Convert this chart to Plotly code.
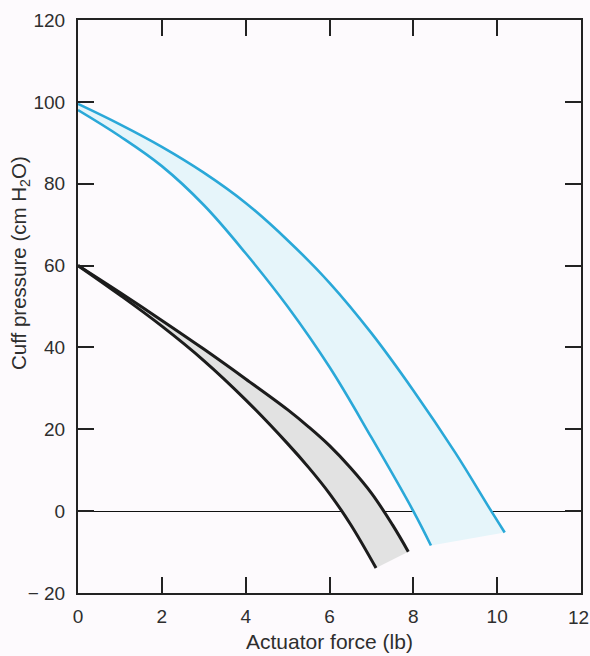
import plotly.graph_objects as go

# Cyan band (upper/lower edges)
cyan_up_x = [0, 1, 2, 3, 4, 5, 6, 7, 8, 9, 9.86, 10.18]
cyan_up_y = [99.5, 94.5, 89, 82.7, 75.3, 66.2, 55.8, 43.5, 29.5, 14.3, 0, -5.2]
cyan_lo_x = [0, 1, 2, 3, 4, 5, 6, 7, 8, 8.42]
cyan_lo_y = [98, 91.6, 84.3, 74.8, 63, 50, 35.2, 18, 0, -8.4]

# Black band
black_up_x = [0, 1, 2, 3, 4, 5, 5.5, 6, 6.5, 7, 7.5, 7.88]
black_up_y = [60, 53.4, 46.6, 39.6, 32.3, 24.8, 20.6, 16, 10.6, 4.4, -3.3, -9.9]
black_lo_x = [0, 1, 2, 3, 4, 5, 5.5, 6, 6.5, 7.11]
black_lo_y = [60, 52.8, 45.2, 36.8, 27.2, 16.5, 10.7, 4.3, -3.2, -13.9]

x_ticks = [0, 2, 4, 6, 8, 10, 12]
x_tick_text = ["0", "2", "4", "6", "8", "10", ""]
x_last_label = "12"
y_ticks = [-20, 0, 20, 40, 60, 80, 100, 120]
y_tick_text = ["\u2212 20", "0", "20", "40", "60", "80", "100", "120"]

CYAN = "#2aa8d8"
BLACK = "#1c1c1c"
FONT = "Liberation Sans, Arial, sans-serif"
TXT = "#2e2e2e"

fig = go.Figure()

sp = dict(shape="spline", smoothing=1.1)
# cyan band: upper edge, then lower edge filled to the upper one
fig.add_trace(go.Scatter(x=cyan_up_x, y=cyan_up_y, mode="lines",
                         line=dict(color=CYAN, width=2.6, **sp), showlegend=False))
fig.add_trace(go.Scatter(x=cyan_lo_x, y=cyan_lo_y, mode="lines",
                         line=dict(color=CYAN, width=2.6, **sp),
                         fill="tonexty", fillcolor="#e6f5fa", showlegend=False))
# black band
fig.add_trace(go.Scatter(x=black_up_x, y=black_up_y, mode="lines",
                         line=dict(color=BLACK, width=3, **sp), showlegend=False))
fig.add_trace(go.Scatter(x=black_lo_x, y=black_lo_y, mode="lines",
                         line=dict(color=BLACK, width=3, **sp),
                         fill="tonexty", fillcolor="#e2e2e2", showlegend=False))

axis_common = dict(
    showgrid=False, showline=True, linecolor="#222", linewidth=2,
    mirror="ticks", ticks="inside", ticklen=16, tickwidth=2, tickcolor="#222",
    tickfont=dict(family=FONT, size=19, color=TXT), automargin=False,
    ticklabeloverflow="allow",
)

fig.update_layout(
    width=590, height=656,
    margin=dict(l=78, r=9, t=20, b=63),
    paper_bgcolor="#fdfafd", plot_bgcolor="#fdfafd",
    font=dict(family=FONT, color=TXT),
    xaxis=dict(range=[0, 12], tickvals=x_ticks, ticktext=x_tick_text, zeroline=False,
               ticklabelstandoff=5, **axis_common),
    yaxis=dict(range=[-20, 120], tickvals=y_ticks, ticktext=y_tick_text,
               zeroline=True, zerolinecolor="#111", zerolinewidth=1.2,
               ticklabelstandoff=7, **axis_common),
    annotations=[
        dict(text=x_last_label, xref="x", yref="paper", x=x_ticks[-1], y=0,
             xshift=-3, yshift=-12, xanchor="center", yanchor="top",
             showarrow=False, font=dict(family=FONT, size=19, color=TXT)),
        dict(text="Actuator force (lb)", xref="paper", yref="paper",
             x=0.5, y=0, yshift=-48, xanchor="center", yanchor="middle",
             showarrow=False, font=dict(family=FONT, size=21, color=TXT)),
        dict(text="Cuff pressure (cm H<sub>2</sub>O)", xref="paper", yref="paper",
             x=0, xshift=-58, y=0.576, xanchor="center", yanchor="middle",
             textangle=-90, showarrow=False,
             font=dict(family=FONT, size=20.5, color=TXT)),
    ],
)

fig.write_html("out.html", config={"displayModeBar": False},
               post_script="document.body.style.margin='0';"
                           "document.body.style.background='#fdfafd';")
